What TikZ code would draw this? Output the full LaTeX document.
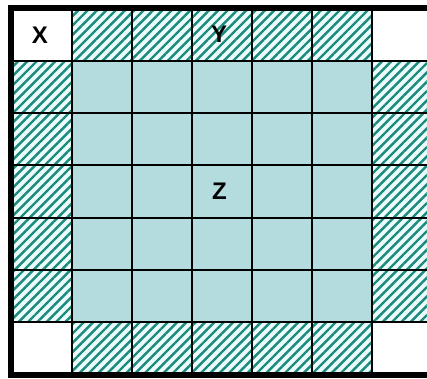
\documentclass[tikz,border=0pt]{standalone}
\usepackage{fontspec}
\setmainfont{Liberation Sans}
\usetikzlibrary{patterns.meta}
\definecolor{cellblue}{RGB}{180, 220, 222}
\definecolor{hatchteal}{RGB}{28, 138, 126}
\definecolor{hatchbg}{RGB}{236, 252, 250}
\tikzset{
  hatched/.style={preaction={fill=hatchbg}, pattern={Lines[angle=45, distance=6.6pt, line width=2.4pt]}, pattern color=hatchteal},
  gridline/.style={line width=2pt, black},
  cellname/.style={font=\fontsize{24}{27}\selectfont\bfseries, inner sep=0pt}
}

\begin{document}
\begin{tikzpicture}[x=1pt, y=-1pt]
  \useasboundingbox (0, 0) rectangle (427, 378);
  \fill[white] (0, 0) rectangle (427, 378);
  % inner block
  \fill[cellblue] (72, 61) rectangle (372, 322);
  % hatched rim - top, bottom, left, right
  \fill[hatched] (72, 11) rectangle (372, 61);
  \fill[hatched] (72, 322) rectangle (372, 372);
  \fill[hatched] (14, 61) rectangle (72, 322);
  \fill[hatched] (372, 61) rectangle (427, 322);
  % grid lines
  \foreach \gx in {72, 132, 192, 252, 312, 372}
    \draw[gridline] (\gx, 11) -- (\gx, 372);
  \foreach \gy in {61, 113.2, 165.4, 217.6, 269.8, 322}
    \draw[gridline] (14, \gy) -- (427, \gy);
  % outer frame, open on the right
  \draw[line width=6pt, black] (427, 8) -- (11, 8) -- (11, 375) -- (427, 375);
  % labels
  \node[cellname] (cellX) at (40, 35) {X};
  \node[cellname] (cellY) at (219, 34) {Y};
  \node[cellname] (cellZ) at (219.5, 191) {Z};
\end{tikzpicture}
\end{document}
